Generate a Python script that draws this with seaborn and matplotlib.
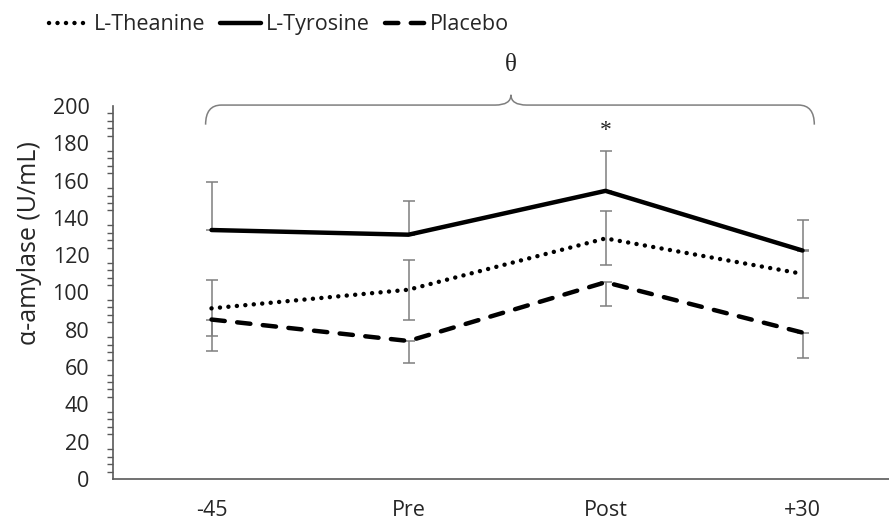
import matplotlib
matplotlib.use("Agg")
import matplotlib.pyplot as plt
from matplotlib.path import Path
from matplotlib.patches import PathPatch
from matplotlib.ticker import MultipleLocator
import numpy as np
import pandas as pd
import seaborn as sns

# ---- data ----
timepoints = ["-45", "Pre", "Post", "+30"]
theanine = [91.5, 101.5, 129.0, 110.0]
tyrosine = [133.5, 131.0, 154.5, 122.5]
placebo = [85.5, 74.0, 105.5, 78.5]
theanine_err = [15.0, 16.0, 14.5, 13.0]
tyrosine_err = [26.0, 18.0, 21.5, 16.5]
placebo_err = [17.0, 12.0, 13.0, 13.5]
series_names = ["L-Theanine", "L-Tyrosine", "Placebo"]

df = pd.DataFrame({
    "time": timepoints * 3,
    "value": theanine + tyrosine + placebo,
    "group": [series_names[0]] * 4 + [series_names[1]] * 4 + [series_names[2]] * 4,
})

sns.set_style("white")
plt.rcParams["font.family"] = ["Open Sans", "DejaVu Sans"]

W, H = 889, 522
fig = plt.figure(figsize=(W / 100, H / 100), dpi=100)
ax_w_px = W - 113
ax = fig.add_axes([113 / W, (H - 479) / H, ax_w_px / W, (479 - 106) / H])

xpos = np.arange(len(timepoints))
grey = "#7f7f7f"
ekw = dict(fmt="none", ecolor=grey, elinewidth=1.1, capsize=4, capthick=1.1, zorder=1)
# error bars: tyrosine upward, theanine both ways, placebo downward
ax.errorbar(xpos, tyrosine, yerr=[np.zeros(4), tyrosine_err], **ekw)
ax.errorbar(xpos, theanine, yerr=[theanine_err, theanine_err], **ekw)
ax.errorbar(xpos, placebo, yerr=[placebo_err, np.zeros(4)], **ekw)

sns.lineplot(data=df, x="time", y="value", hue="group", style="group",
             palette={n: "black" for n in series_names},
             dashes={"L-Theanine": (0.01, 1.9), "L-Tyrosine": "",
                     "Placebo": (3.0, 2.8)},
             linewidth=3.2, sort=False, ax=ax, legend=True, zorder=3)

for ln in ax.get_lines():
    ln.set_dash_capstyle("round")
    ln.set_solid_capstyle("round")

handles, labels = ax.get_legend_handles_labels()
ax.get_legend().remove()
for h in handles:
    h.set_dash_capstyle("round")
fig.legend(handles, labels, loc="upper left", bbox_to_anchor=(0.033, 1.01),
           ncol=3, frameon=False, fontsize=15.5, handlelength=1.9,
           handletextpad=0.2, columnspacing=0.7)

ax.set_xlim(-0.5, -0.5 + ax_w_px / 197.0)
ax.set_ylim(0, 200)
ax.yaxis.set_major_locator(MultipleLocator(20))
ax.yaxis.set_minor_locator(MultipleLocator(4))
ax.tick_params(axis="y", which="major", direction="inout", length=12, width=1,
               color="#595959", labelsize=15.5, pad=11)
ax.tick_params(axis="y", which="minor", direction="out", length=4.5, width=1,
               color="#595959", left=True)
ax.tick_params(axis="x", length=0, labelsize=15.5, pad=15)
for side in ["top", "right"]:
    ax.spines[side].set_visible(False)
for side in ["left", "bottom"]:
    ax.spines[side].set_color("#595959")
    ax.spines[side].set_linewidth(1.2)
ax.set_xlabel("")
ax.set_ylabel("α-amylase (U/mL)", fontsize=18, va="center")
ax.yaxis.set_label_coords((30 - 113) / ax_w_px, (479 - 243) / 373)

# brace annotation
xl, xr, xm = -0.03, 3.06, 1.52
yb, yh, yp = 190, 200.5, 206
c = 0.08
verts = [(xl, yb), (xl, yh), (xl + c, yh),
         (xm - c, yh), (xm, yh), (xm, yp),
         (xm, yh), (xm + c, yh),
         (xr - c, yh), (xr, yh), (xr, yb)]
codes = [Path.MOVETO, Path.CURVE3, Path.CURVE3,
         Path.LINETO, Path.CURVE3, Path.CURVE3,
         Path.CURVE3, Path.CURVE3,
         Path.LINETO, Path.CURVE3, Path.CURVE3]
ax.add_patch(PathPatch(Path(verts, codes), fill=False, edgecolor=grey,
                       lw=1.1, clip_on=False))
ax.text(xm, 222, "θ", ha="center", va="center", fontsize=18,
        family=["Liberation Serif", "DejaVu Serif"])
ax.text(2.0, 187, "*", ha="center", va="center", fontsize=17,
        family=["Liberation Serif", "DejaVu Serif"])

fig.savefig("out.png", dpi=100)
